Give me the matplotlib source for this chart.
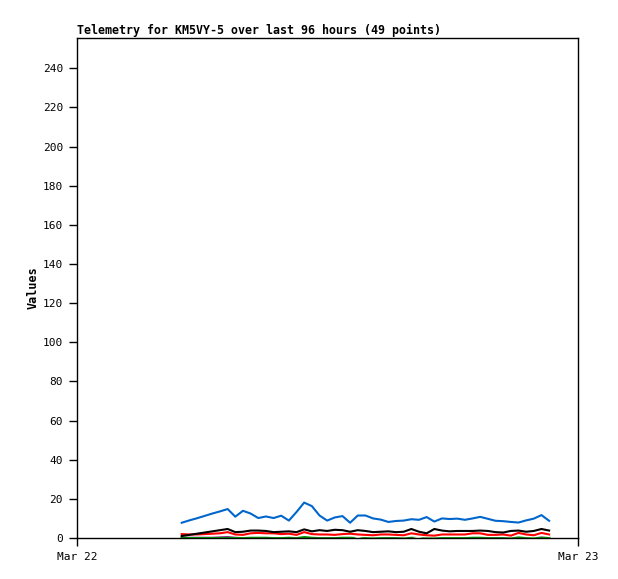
import matplotlib
matplotlib.use("Agg")
import matplotlib.pyplot as plt
import pandas as pd

# sample times (Mar 22)
times = ["05:01", "05:23", "05:45", "06:07", "06:29", "06:51", "07:13", "07:35", "07:57", "08:19",
         "08:41", "09:03", "09:25", "09:47", "10:09", "10:31", "10:53", "11:15", "11:37", "11:59",
         "12:21", "12:43", "13:05", "13:27", "13:49", "14:11", "14:33", "14:55", "15:17", "15:39",
         "16:01", "16:23", "16:45", "17:07", "17:29", "17:51", "18:13", "18:35", "18:57", "19:19",
         "19:41", "20:03", "20:25", "20:47", "21:09", "21:31", "21:53", "22:15", "22:37"]

blue = [7.8, 9.0, 10.1, 11.3, 12.5, 13.6, 14.8, 10.9, 13.9, 12.5,
        10.2, 11.0, 10.2, 11.4, 8.9, 13.3, 18.1, 16.3, 11.5, 8.9,
        10.5, 11.2, 7.8, 11.5, 11.5, 10.0, 9.4, 8.2, 8.7, 8.9,
        9.6, 9.3, 10.7, 8.4, 10.0, 9.7, 9.9, 9.3, 10.0, 10.8,
        9.8, 8.8, 8.6, 8.2, 7.9, 9.0, 9.9, 11.7, 8.8]
black = [1.0, 1.6, 2.2, 2.8, 3.4, 4.0, 4.6, 3.0, 3.2, 3.8,
         3.8, 3.6, 3.0, 3.2, 3.4, 3.0, 4.4, 3.4, 4.0, 3.6,
         4.2, 4.0, 3.2, 4.0, 3.6, 3.0, 3.2, 3.4, 3.0, 3.2,
         4.6, 3.2, 2.4, 4.6, 3.8, 3.4, 3.6, 3.6, 3.6, 3.8,
         3.6, 3.0, 2.8, 3.6, 3.8, 3.2, 3.6, 4.6, 3.8]
red = [2.0, 1.8, 1.8, 2.0, 2.2, 2.4, 3.0, 1.8, 1.6, 2.4,
       2.6, 2.4, 2.4, 2.0, 2.2, 1.6, 3.0, 2.0, 1.8, 1.8,
       1.6, 2.0, 2.2, 1.8, 1.6, 1.4, 1.8, 1.8, 1.6, 1.4,
       2.4, 1.8, 1.4, 1.2, 1.8, 1.8, 1.8, 1.8, 2.4, 2.4,
       1.6, 1.6, 1.8, 1.2, 2.6, 1.8, 1.4, 2.6, 1.8]
white = [1.2, 1.2, 1.2, 1.2, 1.2, 1.4, 1.6, 1.2, 1.0, 1.2,
         1.2, 1.2, 1.0, 1.0, 1.2, 1.0, 1.6, 1.2, 1.0, 1.0,
         1.0, 1.2, 1.2, 1.0, 1.0, 0.8, 1.0, 1.0, 1.0, 0.8,
         1.2, 1.0, 0.8, 0.8, 1.0, 1.0, 1.0, 1.0, 1.2, 1.2,
         1.0, 1.0, 1.0, 0.8, 1.4, 1.0, 0.8, 1.4, 1.0]
green = [0.0, 0.0, 0.0, 0.0, 0.0, 0.0, 0.0, 0.0, 0.0, 0.6,
         0.6, 0.6, 0.6, 0.0, 0.6, 0.6, 0.6, 0.6, 0.6, 0.6,
         0.6, 0.6, 0.0, 1.2, 0.2, 0.0, 0.0, 0.6, 0.6, 0.6,
         0.6, 1.2, 0.0, 0.0, 0.0, 0.0, 0.0, 0.0, 0.6, 0.6,
         0.6, 0.6, 0.6, 0.6, 0.6, 0.6, 0.0, 0.0, 0.6]
purple = [0.4, 0.4, 0.4, 0.4, 0.4, 0.4, 0.4, 0.4, 0.4, 0.4,
          0.4, 0.4, 0.4, 0.4, 0.4, 0.4, 0.4, 0.4, 0.4, 0.4,
          0.4, 0.4, 0.4, 1.6, 0.5, 0.4, 0.4, 0.4, 0.4, 0.4,
          0.5, 1.6, 0.4, 0.4, 0.4, 0.4, 0.4, 0.4, 0.4, 0.4,
          0.4, 0.4, 0.4, 0.4, 0.4, 0.4, 0.4, 0.4, 0.4]

day = pd.Timestamp("2024-03-22")
t = [(pd.Timestamp("2024-03-22 " + s) - day).total_seconds() / 3600 for s in times]

mono = "DejaVu Sans Mono"
fig = plt.figure(figsize=(6.18, 5.79), dpi=100)
ax = fig.add_axes([77 / 618, 41 / 579, 501 / 618, 500 / 579])

lw = 1.5
ax.plot(t, purple, color="#800080", lw=lw)
ax.plot(t, green, color="#00a000", lw=lw)
ax.plot(t, white, color="white", lw=lw)
ax.plot(t, red, color="red", lw=lw)
ax.plot(t, black, color="black", lw=lw)
ax.plot(t, blue, color="#0066cc", lw=lw)

ax.set_xlim(0, 24)
ax.set_ylim(0, 255.5)
ax.set_yticks(range(0, 241, 20))
ax.set_xticks([0, 24])
ax.set_xticklabels(["Mar 22", "Mar 23"])
ax.tick_params(direction="out", length=6, width=1, labelsize=8, pad=4)
for lab in ax.get_xticklabels() + ax.get_yticklabels():
    lab.set_family(mono)
for s in ax.spines.values():
    s.set_linewidth(1)

ax.set_ylabel("Values", family=mono, fontsize=8.5, fontweight="bold", labelpad=2)
ax.set_title("Telemetry for KM5VY-5 over last 96 hours (49 points)", loc="left",
             family=mono, fontsize=8.35, fontweight="bold", pad=3)

fig.savefig("out.png", dpi=100)
